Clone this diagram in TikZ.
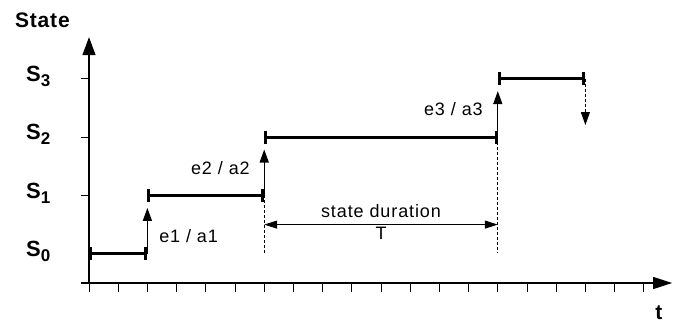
\documentclass[tikz,border=0pt]{standalone}
\usepackage{fontspec}
\setmainfont{Liberation Sans}
\newfontfamily\spacedfont[LetterSpace=5]{Liberation Sans}
\newfontfamily\spacedbold[LetterSpace=4]{Liberation Sans Bold}
\usetikzlibrary{arrows.meta,positioning}

\newcommand{\stname}[1]{S\raisebox{-5pt}{\fontsize{17}{17}\selectfont\bfseries #1}}

\begin{document}
\begin{tikzpicture}[x=29.2pt,y=29.2pt,
    axis/.style={line width=1.3pt},
    tick/.style={line width=1pt},
    bar/.style={{Bar[width=13pt]}-{Bar[width=13pt]}, line width=3pt},
    trans/.style={-{Triangle[length=13pt,width=9pt]}, line width=1.3pt, shorten >=12.5pt},
    guide/.style={dash pattern=on 3pt off 2pt, line width=1pt},
    lbl/.style={font=\fontsize{18}{20}\spacedfont, inner sep=0pt},
    axlbl/.style={font=\fontsize{21}{24}\spacedbold, inner sep=0pt},
    stlbl/.style={font=\fontsize{22}{24}\selectfont\bfseries, inner sep=0pt, anchor=base west}]
    \useasboundingbox (-3.048,-1.404) rectangle (20.103,9.692);

    % axes
    \coordinate (o) at (0,0);
    \coordinate (ytip) at (0,8.42);
    \coordinate (xbeg) at (-0.27,0);
    \coordinate (xtip) at (19.97,0);
    \draw[axis, -{Triangle[length=18pt,width=13pt]}] (o) -- (ytip);
    \draw[axis, -{Triangle[length=19pt,width=12pt]}] (xbeg) -- (xtip);
    \foreach \i in {0,...,19}
        \draw[tick] (\i,0) -- (\i,-0.3);
    \foreach \l in {3,5,7}
        \draw[tick] (-0.27,\l) -- (0,\l);
    \node[axlbl, anchor=base west] (ylabel) at (-2.54,8.76) {State};
    \node[axlbl, anchor=base] (xlabel) at (19.52,-1.24) {t};

    % state names
    \node[stlbl] (n0) at (-2.16,0.91) {\stname{0}};
    \node[stlbl] (n1) at (-2.16,2.91) {\stname{1}};
    \node[stlbl] (n2) at (-2.16,4.91) {\stname{2}};
    \node[stlbl] (n3) at (-2.16,6.91) {\stname{3}};

    % states over time
    \coordinate (s0l) at (0,1);  \coordinate (s0r) at (2,1);
    \coordinate (s1l) at (2,3);  \coordinate (s1r) at (6,3);
    \coordinate (s2l) at (6,5);  \coordinate (s2r) at (14,5);
    \coordinate (s3l) at (14,7); \coordinate (s3r) at (17,7);
    \draw[bar] (s0l) -- (s0r);
    \draw[bar] (s1l) -- (s1r);
    \draw[bar] (s2l) -- (s2r);
    \draw[bar] (s3l) -- (s3r);

    % transitions (event / action)
    \draw[trans] (s0r) -- (s1l);
    \draw[trans] (s1r) -- (s2l);
    \draw[trans] (s2r) -- (s3l);
    \coordinate (s3end) at (17,5.41);
    \draw[guide, -{Triangle[length=13pt,width=9pt]}] (s3r) -- (s3end);
    \node[lbl, anchor=base west] (t1) at (2.4,1.37) {e1 / a1};
    \node[lbl, anchor=base east] (t2) at (5.51,3.70) {e2 / a2};
    \node[lbl, anchor=base east] (t3) at (13.49,5.75) {e3 / a3};

    % duration of S2
    \coordinate (g1) at (6,1.03);
    \coordinate (g2) at (14,1.03);
    \draw[guide] (s1r) -- (g1);
    \draw[guide] (s2r) -- (g2);
    \coordinate (d1) at (6,2);
    \coordinate (d2) at (14,2);
    \draw[{Triangle[length=13pt,width=8pt]}-{Triangle[length=13pt,width=8pt]}, line width=1pt]
        (d1) -- (d2)
        node[lbl, midway, above=6pt] (dur) {state duration}
        node[lbl, midway, below=2pt] (per) {T};
\end{tikzpicture}
\end{document}
